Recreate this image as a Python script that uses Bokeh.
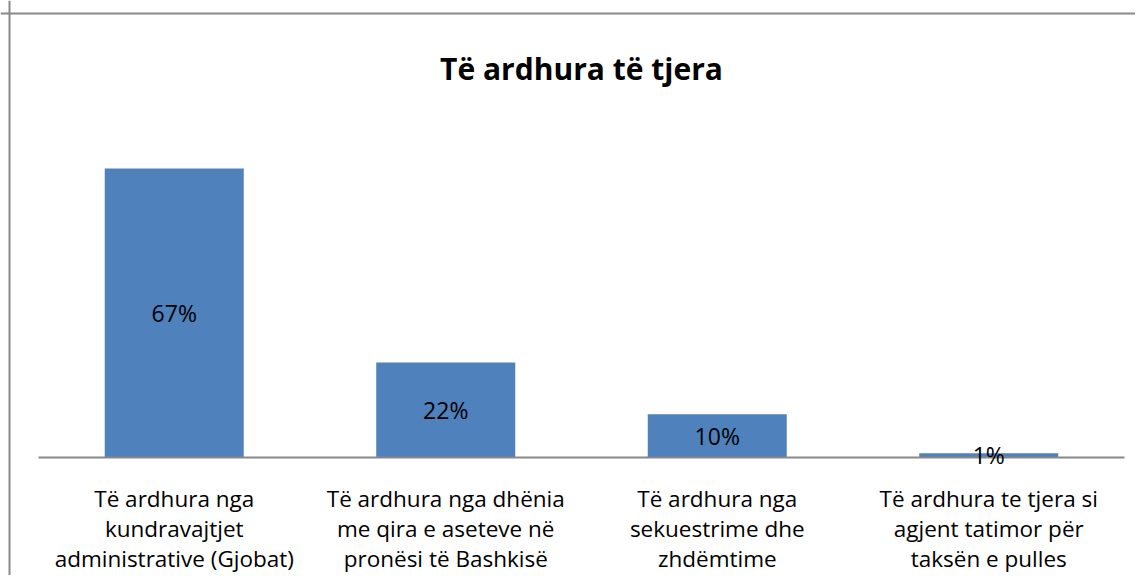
from bokeh.plotting import figure
from bokeh.models import ColumnDataSource, Span, Label
from bokeh.core.properties import value
from bokeh.embed import file_html
from bokeh.resources import INLINE

# ---- data ----
title_text = "Të ardhura të tjera"
categories = [
    "Të ardhura nga\nkundravajtjet\nadministrative (Gjobat)",
    "Të ardhura nga dhënia\nme qira e aseteve në\npronësi të Bashkisë",
    "Të ardhura nga\nsekuestrime dhe\nzhdëmtime",
    "Të ardhura te tjera si\nagjent tatimor për\ntaksën e pulles",
]
values = [67, 22, 10, 1]
value_labels = ["67%", "22%", "10%", "1%"]

# ---- layout ----
W, H = 1135, 575
PX_X = 271.5   # px per category slot
PX_Y = 4.314   # px per percent
left_pad = 38  # px from frame left edge to start of category axis
base_px = 457  # px from frame top to the category axis line
line_gap = 30.0  # px between category label lines
first_line = 41.0  # px from axis to first label baseline

xs = -left_pad / PX_X
xe = xs + W / PX_X
ye = base_px / PX_Y
ys = ye - H / PX_Y

FONT = "Open Sans"
n = len(categories)
centers = [i + 0.5 for i in range(n)]

p = figure(width=W, height=H, x_range=(xs, xe), y_range=(ys, ye),
           output_backend="svg", toolbar_location=None,
           x_axis_location=None, y_axis_location=None,
           min_border=0, min_border_left=0, min_border_right=0,
           min_border_top=0, min_border_bottom=0)
p.outline_line_color = None
p.grid.visible = False
p.background_fill_color = "white"
p.border_fill_color = "white"

bars = ColumnDataSource(dict(x=centers, top=values, mid=[v / 2 for v in values], lab=value_labels))
p.vbar(x="x", top="top", bottom=0, width=0.512, source=bars,
       fill_color="#4F81BD", line_color=None)

# category axis line
p.segment(x0=[0], y0=[0], x1=[n], y1=[0], line_color="#888888", line_width=2)

# value labels
p.text(x="x", y="mid", text="lab", source=bars, text_align="center",
       text_baseline="middle", text_font=value(FONT), text_font_size="23px",
       text_color="#000000")

# category labels, one line at a time (line baselines below the axis, in px)
split = [c.split("\n") for c in categories]
max_lines = max(len(s) for s in split)
for k in range(max_lines):
    xs_k, txt_k = [], []
    for i, s in enumerate(split):
        if k < len(s):
            xs_k.append(centers[i])
            txt_k.append(s[k])
    y_line = -(first_line + line_gap * k) / PX_Y
    src = ColumnDataSource(dict(x=xs_k, y=[y_line] * len(xs_k), t=txt_k))
    p.text(x="x", y="y", text="t", source=src, text_align="center",
           text_baseline="alphabetic",
           text_font=value(FONT), text_font_size="22.5px", text_color="#000000")

# title
p.add_layout(Label(x=n / 2, y=(base_px - 68) / PX_Y, text=title_text,
                   text_align="center", text_baseline="alphabetic",
                   text_font=FONT, text_font_size="30px", text_font_style="bold",
                   text_color="#000000"))

# chart frame (top and left edges visible)
p.add_layout(Span(location=xs + 9 / PX_X, dimension="height",
                  line_color="#898989", line_width=2))
p.add_layout(Span(location=ye - 13 / PX_Y, dimension="width",
                  line_color="#898989", line_width=2))

open("out.html", "w").write(file_html(p, INLINE))
